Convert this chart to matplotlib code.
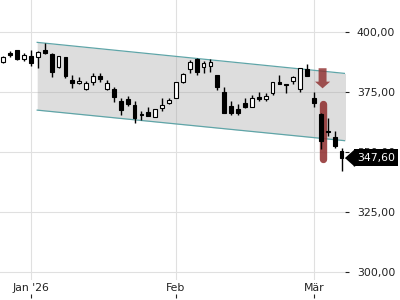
import matplotlib
matplotlib.use('Agg')
import matplotlib.pyplot as plt
import numpy as np
from matplotlib.ticker import FuncFormatter

# daily candles, index 0 = first trading day of Jan 2026
day_index = list(range(-4, 46))
opens = [387.5, 391.3, 392.5, 388.6, 390.0, 389.4, 392.5, 391.0, 385.3, 389.4,
         380.0, 378.6, 376.2, 379.3, 381.6, 376.1, 376.1, 371.4, 371.9, 369.6,
         365.8, 366.8, 364.7, 368.2, 370.5, 372.6, 379.0, 384.6, 388.6, 385.3,
         386.0, 382.1, 375.1, 369.2, 367.8, 370.5, 368.6, 373.0, 372.0, 374.4,
         379.3, 378.4, 379.7, 376.1, 384.5, 372.6, 365.8, 358.7, 356.1, 350.5]
highs = [390.0, 392.1, 392.7, 391.4, 392.5, 392.0, 395.5, 391.2, 390.2, 389.6,
         382.0, 381.4, 379.5, 382.8, 383.0, 380.0, 377.2, 372.4, 373.3, 371.4,
         367.1, 368.9, 368.0, 372.4, 372.6, 379.3, 383.0, 388.3, 389.0, 387.9,
         388.6, 382.2, 377.0, 371.4, 369.8, 372.4, 373.8, 375.1, 374.7, 379.3,
         382.1, 378.5, 381.6, 385.1, 386.5, 374.9, 366.2, 364.0, 358.5, 351.5]
lows = [387.0, 389.7, 388.5, 388.0, 385.8, 385.1, 391.0, 381.4, 385.0, 380.7,
        376.5, 378.5, 375.8, 377.9, 379.3, 376.0, 370.9, 365.4, 369.0, 362.2,
        363.3, 364.9, 364.6, 367.2, 370.0, 372.3, 378.9, 383.0, 382.1, 382.8,
        383.5, 375.8, 366.0, 365.4, 365.4, 368.2, 368.5, 371.4, 371.4, 373.8,
        378.4, 374.4, 378.2, 375.1, 381.6, 368.9, 351.1, 356.4, 351.5, 341.8]
closes = [389.6, 390.5, 388.6, 390.4, 387.2, 391.8, 391.1, 383.5, 390.0, 381.8,
          378.8, 379.5, 378.9, 381.6, 380.2, 378.9, 373.0, 367.5, 369.8, 364.0,
          365.2, 365.0, 367.9, 369.6, 371.7, 379.0, 382.4, 387.4, 383.5, 387.0,
          387.4, 377.2, 366.4, 366.1, 366.1, 368.9, 372.6, 371.9, 373.5, 379.0,
          378.5, 378.0, 381.4, 384.9, 381.8, 370.2, 354.3, 358.1, 352.5, 347.6]

month_ticks = [0, 21, 41]
month_labels = ["Jan '26", "Feb", "Mär"]
y_ticks = [300, 325, 350, 375, 400]
last_price = 347.60

# trend channel (start/end index, upper and lower values)
channel_x = [0.9, 45.6]
channel_top = [395.7, 382.7]
channel_bottom = [367.4, 354.6]

# signal marker at the breakout day
signal_day = 42.25
signal_bar = [369.9, 347.0]
arrow_from, arrow_to = 384.9, 376.5

fig = plt.figure(figsize=(4, 3), dpi=100)
ax = fig.add_axes([0.0, 20 / 300, 345 / 400, 280 / 300])
ax.set_xlim(-4.49, 45.5)
ax.set_ylim(296.45, 413.4)

for s in ax.spines.values():
    s.set_visible(False)
ax.grid(True, color='#e0e0e0', lw=0.8, zorder=0)
ax.set_axisbelow(True)

# channel
ax.fill_between(channel_x, channel_bottom, channel_top, color='#a0a0a0',
                alpha=0.35, lw=0, zorder=1)
ax.plot(channel_x, channel_top, color='#5fa5a8', lw=0.9, zorder=2)
ax.plot(channel_x, channel_bottom, color='#5fa5a8', lw=0.9, zorder=2)

# signal bar + arrow
red = '#8e2b2b'
ax.plot([signal_day, signal_day], signal_bar, color=red, alpha=0.85, lw=5.3,
        solid_capstyle='round', zorder=2.5)
ax.arrow(signal_day, arrow_from, 0, arrow_to - arrow_from, width=1.15,
         head_width=2.2, head_length=2.8, length_includes_head=True,
         color=red, alpha=0.8, lw=0, zorder=4)

# candles
x = np.array(day_index)
o = np.array(opens)
c = np.array(closes)
ax.vlines(x, lows, highs, color='black', lw=1.0, zorder=3)
up = c >= o
bottoms = np.minimum(o, c)
heights = np.maximum(np.abs(c - o), 0.25)
ax.bar(x[up], heights[up], bottom=bottoms[up], width=0.55, facecolor='white',
       edgecolor='black', lw=0.8, zorder=3.5)
ax.bar(x[~up], heights[~up], bottom=bottoms[~up], width=0.55, facecolor='black',
       edgecolor='black', lw=0.8, zorder=3.5)

# axes
ax.yaxis.tick_right()
ax.set_yticks(y_ticks)
ax.yaxis.set_major_formatter(FuncFormatter(lambda v, p: f"{v:.2f}".replace('.', ',')))
ax.tick_params(axis='y', length=3, width=0.8, pad=5.5, labelsize=7.8,
               colors='#222222')
ax.set_xticks(month_ticks)
ax.set_xticklabels(month_labels)
ax.tick_params(axis='x', length=0, pad=2, labelsize=7.8, colors='#222222')

sec = ax.secondary_xaxis(-0.05)
sec.set_xticks(month_ticks)
sec.tick_params(axis='x', length=3, width=0.8, labelbottom=False, colors='#222222')
for s in sec.spines.values():
    s.set_visible(False)

# last price label
tr = ax.get_yaxis_transform()
ax.text(357 / 345, last_price, f"{last_price:.2f}".replace('.', ','),
        transform=tr, ha='left', va='center', fontsize=7.8, color='white',
        bbox=dict(boxstyle='square,pad=0.3', fc='black', ec='none'),
        clip_on=False, zorder=10)
ax.plot([354 / 345], [last_price], transform=tr, marker=[(-9, 0), (0, 8), (0, -8)],
        markersize=13, color='black', clip_on=False, zorder=10)

fig.savefig('out.png', dpi=100)
